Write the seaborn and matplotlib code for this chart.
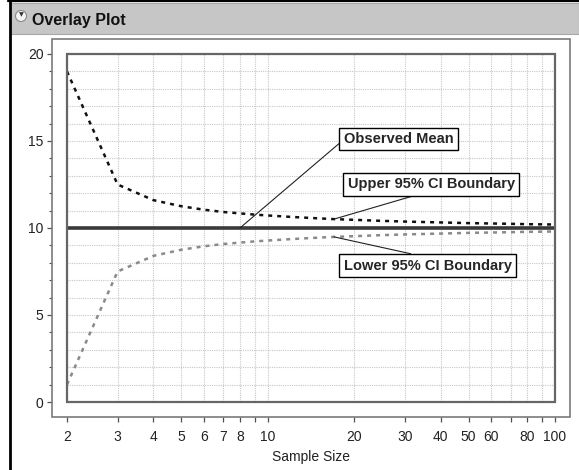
import matplotlib
matplotlib.use("Agg")
import matplotlib.pyplot as plt
import matplotlib.ticker as mticker
from matplotlib.patches import Rectangle, Ellipse
from matplotlib.lines import Line2D
import seaborn as sns
import pandas as pd

# values
sample_sizes = [2, 3, 4, 5, 6, 7, 8, 9, 10, 12, 14, 17, 20, 25, 30, 40, 50, 60, 70, 80, 90, 100]
upper_ci = [19.0, 12.5, 11.6, 11.25, 11.05, 10.92, 10.84, 10.77, 10.72, 10.64, 10.58, 10.51,
            10.47, 10.41, 10.37, 10.32, 10.28, 10.26, 10.24, 10.22, 10.21, 10.2]
lower_ci = [1.0, 7.5, 8.4, 8.75, 8.95, 9.08, 9.16, 9.23, 9.28, 9.36, 9.42, 9.49,
            9.53, 9.59, 9.63, 9.68, 9.72, 9.74, 9.76, 9.78, 9.79, 9.8]
observed_mean = 10.0

x_ticks = [2, 3, 4, 5, 6, 7, 8, 9, 10, 20, 30, 40, 50, 60, 70, 80, 90, 100]
x_ticklabels = ["2", "3", "4", "5", "6", "7", "8", "", "10", "20", "30", "40", "50", "60", "", "80", "", "100"]
y_ticks = [0, 5, 10, 15, 20]

df = pd.DataFrame({
    "Sample Size": sample_sizes * 3,
    "value": [observed_mean] * len(sample_sizes) + upper_ci + lower_ci,
    "series": ["mean"] * len(sample_sizes) + ["upper"] * len(sample_sizes) + ["lower"] * len(sample_sizes),
})

sns.set_style("white")
plt.rcParams["font.family"] = ["Liberation Sans", "DejaVu Sans"]

W, H = 579, 470
fig = plt.figure(figsize=(W / 100, H / 100), dpi=100)


def fx(x):
    return x / W


def fy(y):
    return 1 - y / H


# inner data area
left, right, top, bottom = 67, 555, 54, 402
ax = fig.add_axes([fx(left), fy(bottom), (right - left) / W, (bottom - top) / H])

sns.lineplot(data=df[df.series == "upper"], x="Sample Size", y="value", ax=ax, color="#111111",
             lw=1.8, linestyle=(0, (1.6, 2.0)), legend=False, zorder=4)
sns.lineplot(data=df[df.series == "lower"], x="Sample Size", y="value", ax=ax, color="#8a8a8a",
             lw=1.8, linestyle=(0, (1.6, 2.0)), legend=False, zorder=4)
sns.lineplot(data=df[df.series == "mean"], x="Sample Size", y="value", ax=ax, color="#3a3a3a",
             lw=2.6, legend=False, zorder=5)

ax.set_xscale("log")
ax.set_xlim(2, 100)
ax.set_ylim(0, 20)
ax.xaxis.set_major_locator(mticker.FixedLocator(x_ticks))
ax.xaxis.set_minor_locator(mticker.NullLocator())
ax.set_xticklabels(x_ticklabels)
ax.set_yticks(y_ticks)
ax.yaxis.set_minor_locator(mticker.MultipleLocator(1))

for lab in ax.get_xticklabels():
    if lab.get_text() in ("10", "100"):
        lab.set_fontsize(11.5)
    else:
        lab.set_fontsize(8)

ax.grid(True, which="both", axis="y", color="#c8c8c8", linestyle=(0, (1, 1)), lw=0.8)
ax.grid(True, which="major", axis="x", color="#c8c8c8", linestyle=(0, (1, 1)), lw=0.8)
ax.set_axisbelow(True)

for s in ax.spines.values():
    s.set_visible(False)
ax.spines["left"].set_position(("outward", 15 * 0.72))
ax.spines["bottom"].set_position(("outward", 15 * 0.72))
ax.tick_params(axis="y", which="major", length=3.6, width=0.9, color="#505050", labelsize=10,
               pad=2.5, left=True, labelcolor="#222222")
ax.tick_params(axis="y", which="minor", length=2.2, width=0.8, color="#505050", left=True)
ax.tick_params(axis="x", which="major", length=3.6, width=0.9, color="#505050", pad=6,
               bottom=True, labelcolor="#222222")
ax.set_xlabel("Sample Size", fontsize=10, labelpad=4, color="#222222")
ax.set_ylabel("")

# inner border of the plotting area
ax.add_patch(Rectangle((0, 0), 1, 1, transform=ax.transAxes, fill=False, ec="#666666",
                       lw=1.6, clip_on=False, zorder=6))

# annotations
box = dict(boxstyle="square,pad=0.3", fc="white", ec="black", lw=1.0)
line = dict(arrowstyle="-", color="#222222", lw=0.8, shrinkA=0, shrinkB=0)
ax.annotate("Observed Mean", xy=(8, observed_mean), xytext=(0.567, 0.756),
            textcoords="axes fraction", fontsize=10.5, fontweight="bold", va="center", ha="left",
            bbox=box, arrowprops=dict(line, relpos=(0, 0.45)), zorder=7)
ax.annotate("Upper 95% CI Boundary", xy=(17, upper_ci[sample_sizes.index(17)]), xytext=(0.575, 0.626),
            textcoords="axes fraction", fontsize=10.5, fontweight="bold", va="center", ha="left",
            bbox=box, arrowprops=dict(line, relpos=(0.49, 0)), zorder=7)
ax.annotate("Lower 95% CI Boundary", xy=(17, lower_ci[sample_sizes.index(17)]), xytext=(0.567, 0.392),
            textcoords="axes fraction", fontsize=10.5, fontweight="bold", va="center", ha="left",
            bbox=box, arrowprops=dict(line, relpos=(0.53, 1)), zorder=7)

# outer frame around axis area
fig.add_artist(Rectangle((fx(52), fy(417)), (570 - 52) / W, (417 - 39) / H, transform=fig.transFigure,
                         fill=False, ec="#7a7a7a", lw=1.2))

# window decorations (JMP style header)
fig.add_artist(Rectangle((fx(10), fy(34)), (W - 10) / W, 31 / H, transform=fig.transFigure,
                         fc="#c6c6c6", ec="#a8a8a8", lw=0.8))
fig.add_artist(Line2D([fx(8), 1], [fy(1), fy(1)], color="black", lw=1.6))
fig.add_artist(Line2D([fx(9.5), fx(9.5)], [0, fy(1)], color="black", lw=2.0))
fig.add_artist(Ellipse((fx(21), fy(16)), 11 / W, 11 / H, transform=fig.transFigure,
                       fc="#f4f4f4", ec="#8a8a8a", lw=0.8))
fig.text(fx(21), fy(15), "\u25BC", fontsize=4.5, ha="center", va="center", color="#333333",
         family="DejaVu Sans")
fig.text(fx(32), fy(20), "Overlay Plot", fontsize=11.5, fontweight="bold", va="center", ha="left",
         color="#111111")

fig.savefig("out.png", dpi=100)
